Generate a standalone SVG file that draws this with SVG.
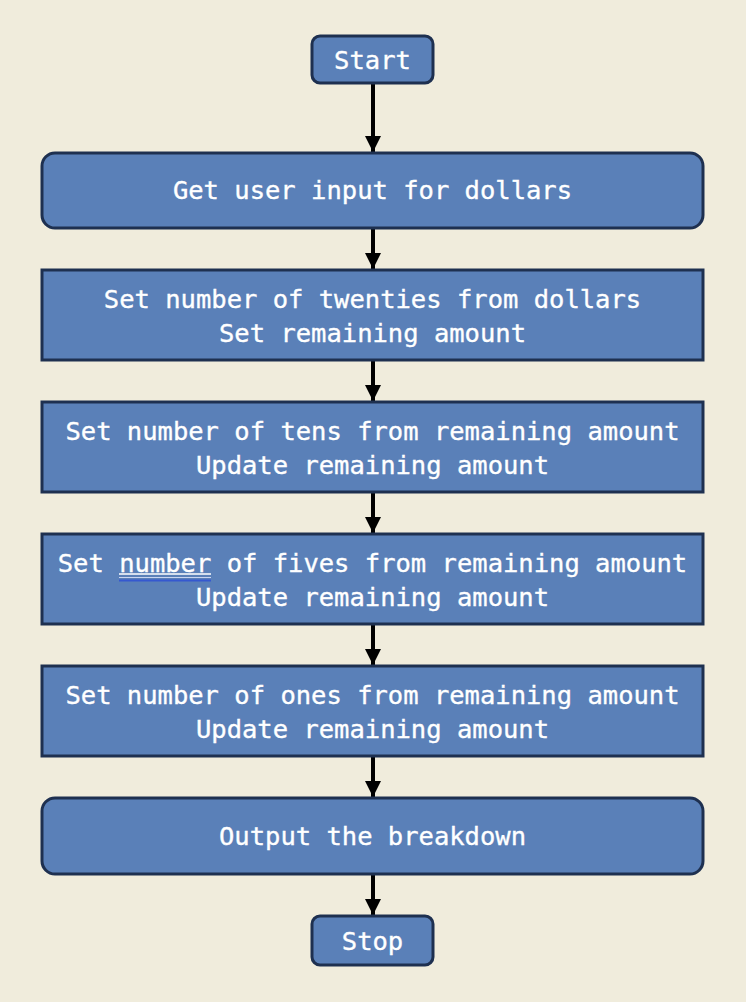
<svg xmlns="http://www.w3.org/2000/svg" width="746" height="1002" viewBox="0 0 746 1002">
<defs>
<style>
.bg{fill:#f0ecdc}
.box{fill:#5a80b8;stroke:#1e3050;stroke-width:3}
.t{font-family:"DejaVu Sans Mono","Liberation Mono",monospace;font-size:25.5px;fill:#ffffff;stroke:#ffffff;stroke-width:0.35;text-anchor:middle;dominant-baseline:central}
.c{stroke:#000000;stroke-width:4;fill:none}
</style>
<marker id="ah" viewBox="0 0 10 10" refX="10" refY="5" markerWidth="4" markerHeight="4" orient="auto" markerUnits="strokeWidth">
<path d="M0,0 L10,5 L0,10 z" fill="#000000"/>
</marker>
</defs>
<rect class="bg" x="0" y="0" width="746" height="1002"/>
<g id="connectors">
<line class="c" x1="373" y1="84" x2="373" y2="152" marker-end="url(#ah)"/>
<line class="c" x1="373" y1="229" x2="373" y2="269" marker-end="url(#ah)"/>
<line class="c" x1="373" y1="361" x2="373" y2="401" marker-end="url(#ah)"/>
<line class="c" x1="373" y1="493" x2="373" y2="533" marker-end="url(#ah)"/>
<line class="c" x1="373" y1="625" x2="373" y2="665" marker-end="url(#ah)"/>
<line class="c" x1="373" y1="757" x2="373" y2="797" marker-end="url(#ah)"/>
<line class="c" x1="373" y1="875" x2="373" y2="915" marker-end="url(#ah)"/>
</g>
<g id="start">
<rect class="box" x="312" y="36" width="121" height="47" rx="8"/>
<text class="t" x="372.5" y="60">Start</text>
</g>
<g id="input">
<rect class="box" x="42" y="153" width="661" height="75" rx="13"/>
<text class="t" x="372.5" y="190">Get user input for dollars</text>
</g>
<g id="twenties">
<rect class="box" x="42" y="270" width="661" height="90"/>
<text class="t" x="372.5" y="299">Set number of twenties from dollars</text>
<text class="t" x="372.5" y="333">Set remaining amount</text>
</g>
<g id="tens">
<rect class="box" x="42" y="402" width="661" height="90"/>
<text class="t" x="372.5" y="431">Set number of tens from remaining amount</text>
<text class="t" x="372.5" y="465">Update remaining amount</text>
</g>
<g id="fives">
<rect class="box" x="42" y="534" width="661" height="90"/>
<text class="t" x="372.5" y="563">Set number of fives from remaining amount</text>
<text class="t" x="372.5" y="597">Update remaining amount</text>
<line x1="119" y1="574" x2="211" y2="574" stroke="#ffffff" stroke-width="1.5"/>
<line x1="119" y1="577.5" x2="211" y2="577.5" stroke="#c8d4f0" stroke-width="1.2"/>
<line x1="119" y1="580.5" x2="211" y2="580.5" stroke="#3558d0" stroke-width="1.8"/>
</g>
<g id="ones">
<rect class="box" x="42" y="666" width="661" height="90"/>
<text class="t" x="372.5" y="695">Set number of ones from remaining amount</text>
<text class="t" x="372.5" y="729">Update remaining amount</text>
</g>
<g id="output">
<rect class="box" x="42" y="798" width="661" height="76" rx="13"/>
<text class="t" x="372.5" y="836">Output the breakdown</text>
</g>
<g id="stop">
<rect class="box" x="312" y="916" width="121" height="49" rx="8"/>
<text class="t" x="372.5" y="941">Stop</text>
</g>
</svg>
